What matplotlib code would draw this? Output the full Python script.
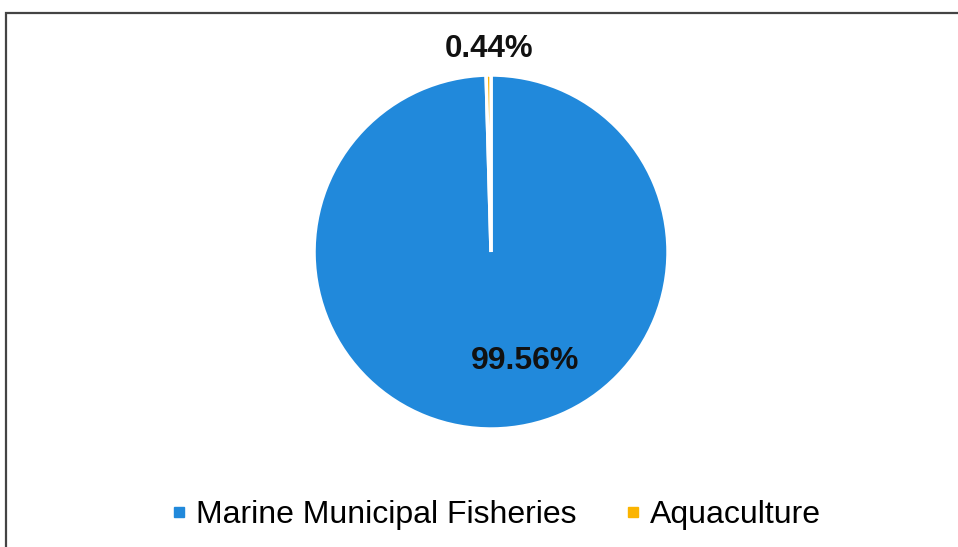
import matplotlib.pyplot as plt
from matplotlib.lines import Line2D
from matplotlib.patches import Rectangle

labels = ['Marine Municipal Fisheries', 'Aquaculture']
shares = [99.56, 0.44]
colors = ['#2189DB', '#FBB400']

plt.rcParams['font.family'] = ['Liberation Sans', 'DejaVu Sans']

fig = plt.figure(figsize=(9.58, 5.47), dpi=100)
fig.patch.set_facecolor('white')

# chart frame (runs off the right and bottom edges like the scan)
fig.patches.append(Rectangle((6 / 958, -0.05), 1.0, 1 - 13 / 547 + 0.05,
                             transform=fig.transFigure, fill=False,
                             edgecolor='#444444', linewidth=1.6))

ax = fig.add_axes([0.3278, 0.2157, 0.3695, 0.6472])
wedges, _ = ax.pie(shares, colors=colors, startangle=90, counterclock=False,
                   radius=1, wedgeprops=dict(edgecolor='white', linewidth=2.5))
ax.set_xlim(-1, 1)
ax.set_ylim(-1, 1)
ax.set_aspect('auto')

ax.text(-0.01, 1.145, '{:.2f}%'.format(shares[1]), ha='center', va='center',
        fontsize=22.5, fontweight='bold', color='#111111')
ax.text(0.19, -0.615, '{:.2f}%'.format(shares[0]), ha='center', va='center',
        fontsize=23, fontweight='bold', color='#111111')

handles = [Line2D([], [], marker='s', linestyle='none', markersize=7,
                  markerfacecolor=c, markeredgecolor=c) for c in colors]
fig.legend(handles, labels, loc='center', bbox_to_anchor=(0.517, 0.058),
           ncol=2, frameon=False, fontsize=23, handletextpad=0.25,
           columnspacing=1.45, handlelength=0.6)

fig.savefig('out.png', dpi=100)
